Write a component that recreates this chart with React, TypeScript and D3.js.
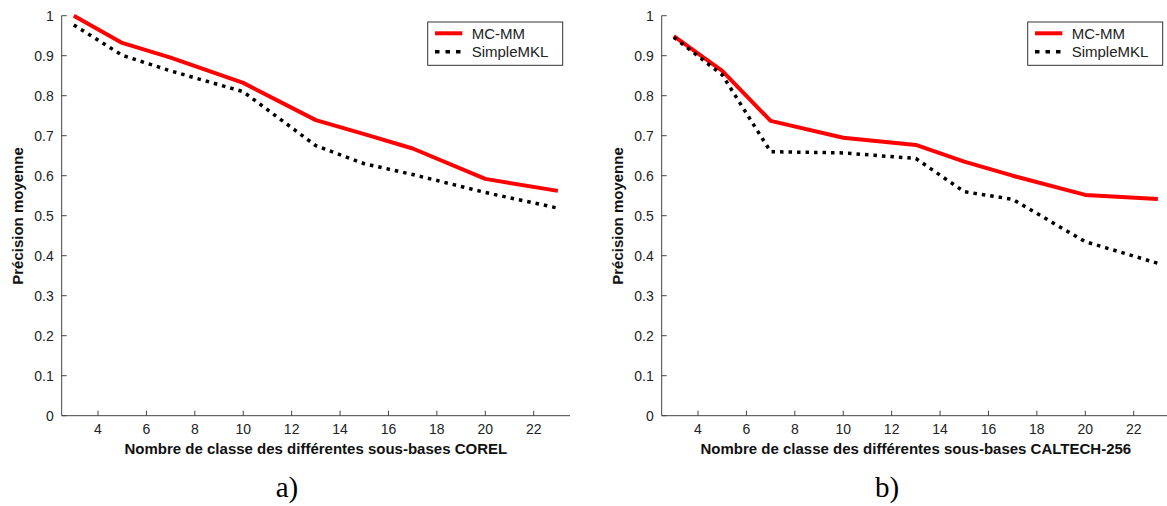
import React from "react";
import * as d3 from "d3";

const xValues = [3, 5, 7, 10, 13, 15, 17, 20, 23];
const corelMCMM = [1.0, 0.932, 0.895, 0.832, 0.739, 0.704, 0.668, 0.592, 0.562];
const corelSimpleMKL = [0.977, 0.901, 0.862, 0.81, 0.675, 0.63, 0.603, 0.558, 0.519];
const caltechMCMM = [0.949, 0.862, 0.737, 0.695, 0.677, 0.635, 0.6, 0.552, 0.542];
const caltechSimpleMKL = [0.946, 0.852, 0.66, 0.657, 0.643, 0.56, 0.541, 0.435, 0.381];
const xTicks = [4, 6, 8, 10, 12, 14, 16, 18, 20, 22];
const yTicks = [0, 0.1, 0.2, 0.3, 0.4, 0.5, 0.6, 0.7, 0.8, 0.9, 1];
const seriesNames = ["MC-MM", "SimpleMKL"];
const panels = [
  { xLabel: "Nombre de classe des différentes sous-bases COREL", caption: "a)", mc: corelMCMM, sm: corelSimpleMKL },
  { xLabel: "Nombre de classe des différentes sous-bases CALTECH-256", caption: "b)", mc: caltechMCMM, sm: caltechSimpleMKL },
];

const AX = "#444";
const FONT = "'Liberation Sans', Arial, Helvetica, sans-serif";

function Panel({ ox, p }: { ox: number; p: typeof panels[0] }) {
  const left = ox + 61.7;
  const right = ox + 570;
  const top = 15.7;
  const bottom = 415.7;
  const x = d3.scaleLinear().domain([2.5, 23.5]).range([left, right]);
  const y = d3.scaleLinear().domain([0, 1]).range([bottom, top]);
  const line = d3
    .line<number>()
    .x((_, i) => x(xValues[i]))
    .y((d) => y(d));
  const legX = ox + 427.7;
  const legY = 22;
  return (
    <g>
      <line x1={left} x2={left} y1={top} y2={bottom} stroke={AX} strokeWidth={1} />
      <line x1={left} x2={right} y1={bottom} y2={bottom} stroke={AX} strokeWidth={1} />
      {yTicks.map((t) => (
        <g key={"y" + t}>
          <line x1={left} x2={left + 5} y1={y(t)} y2={y(t)} stroke={AX} />
          <text x={left - 8} y={y(t)} dy="0.36em" textAnchor="end" fontSize={14} fill="#222" fontFamily={FONT}>
            {t === 0 ? "0" : t === 1 ? "1" : d3.format(".1f")(t)}
          </text>
        </g>
      ))}
      {xTicks.map((t) => (
        <g key={"x" + t}>
          <line x1={x(t)} x2={x(t)} y1={bottom} y2={bottom - 5} stroke={AX} />
          <text x={x(t)} y={bottom + 18} textAnchor="middle" fontSize={14} fill="#222" fontFamily={FONT}>
            {t}
          </text>
        </g>
      ))}
      <path d={line(p.mc) || ""} fill="none" stroke="#ff0000" strokeWidth={4} strokeLinejoin="round" />
      <path d={line(p.sm) || ""} fill="none" stroke="#000" strokeWidth={3.5} strokeDasharray="3.5 5" />
      <text
        x={(left + right) / 2 + 0}
        y={454}
        textAnchor="middle"
        fontSize={15}
        fontWeight="bold"
        fill="#111"
        fontFamily={FONT}
      >
        {p.xLabel}
      </text>
      <text
        transform={`translate(${ox + 23},216) rotate(-90)`}
        textAnchor="middle"
        fontSize={15}
        fontWeight="bold"
        fill="#111"
        fontFamily={FONT}
      >
        Précision moyenne
      </text>
      <text x={ox + 287} y={497} textAnchor="middle" fontSize={29} fill="#000" fontFamily="'Liberation Serif', 'DejaVu Serif', serif">
        {p.caption}
      </text>
      <rect x={legX} y={legY} width={135} height={43.3} fill="#fff" stroke="#333" strokeWidth={1} />
      <line x1={legX + 7.3} x2={legX + 34.6} y1={legY + 11.3} y2={legY + 11.3} stroke="#ff0000" strokeWidth={4} />
      <line x1={legX + 7.3} x2={legX + 34.6} y1={legY + 29.7} y2={legY + 29.7} stroke="#000" strokeWidth={3.5} strokeDasharray="4.5 6" />
      <text x={legX + 44} y={legY + 11.3} dy="0.36em" fontSize={15} fill="#222" fontFamily={FONT}>
        {seriesNames[0]}
      </text>
      <text x={legX + 44} y={legY + 29.7} dy="0.36em" fontSize={15} fill="#222" fontFamily={FONT}>
        {seriesNames[1]}
      </text>
    </g>
  );
}

export default function App() {
  return (
    <svg
      width={1167}
      height={506}
      style={{ position: "absolute", left: 0, top: 0, background: "#fff" }}
    >
      <rect width={1167} height={506} fill="#fff" />
      <Panel ox={0} p={panels[0]} />
      <Panel ox={600} p={panels[1]} />
    </svg>
  );
}
